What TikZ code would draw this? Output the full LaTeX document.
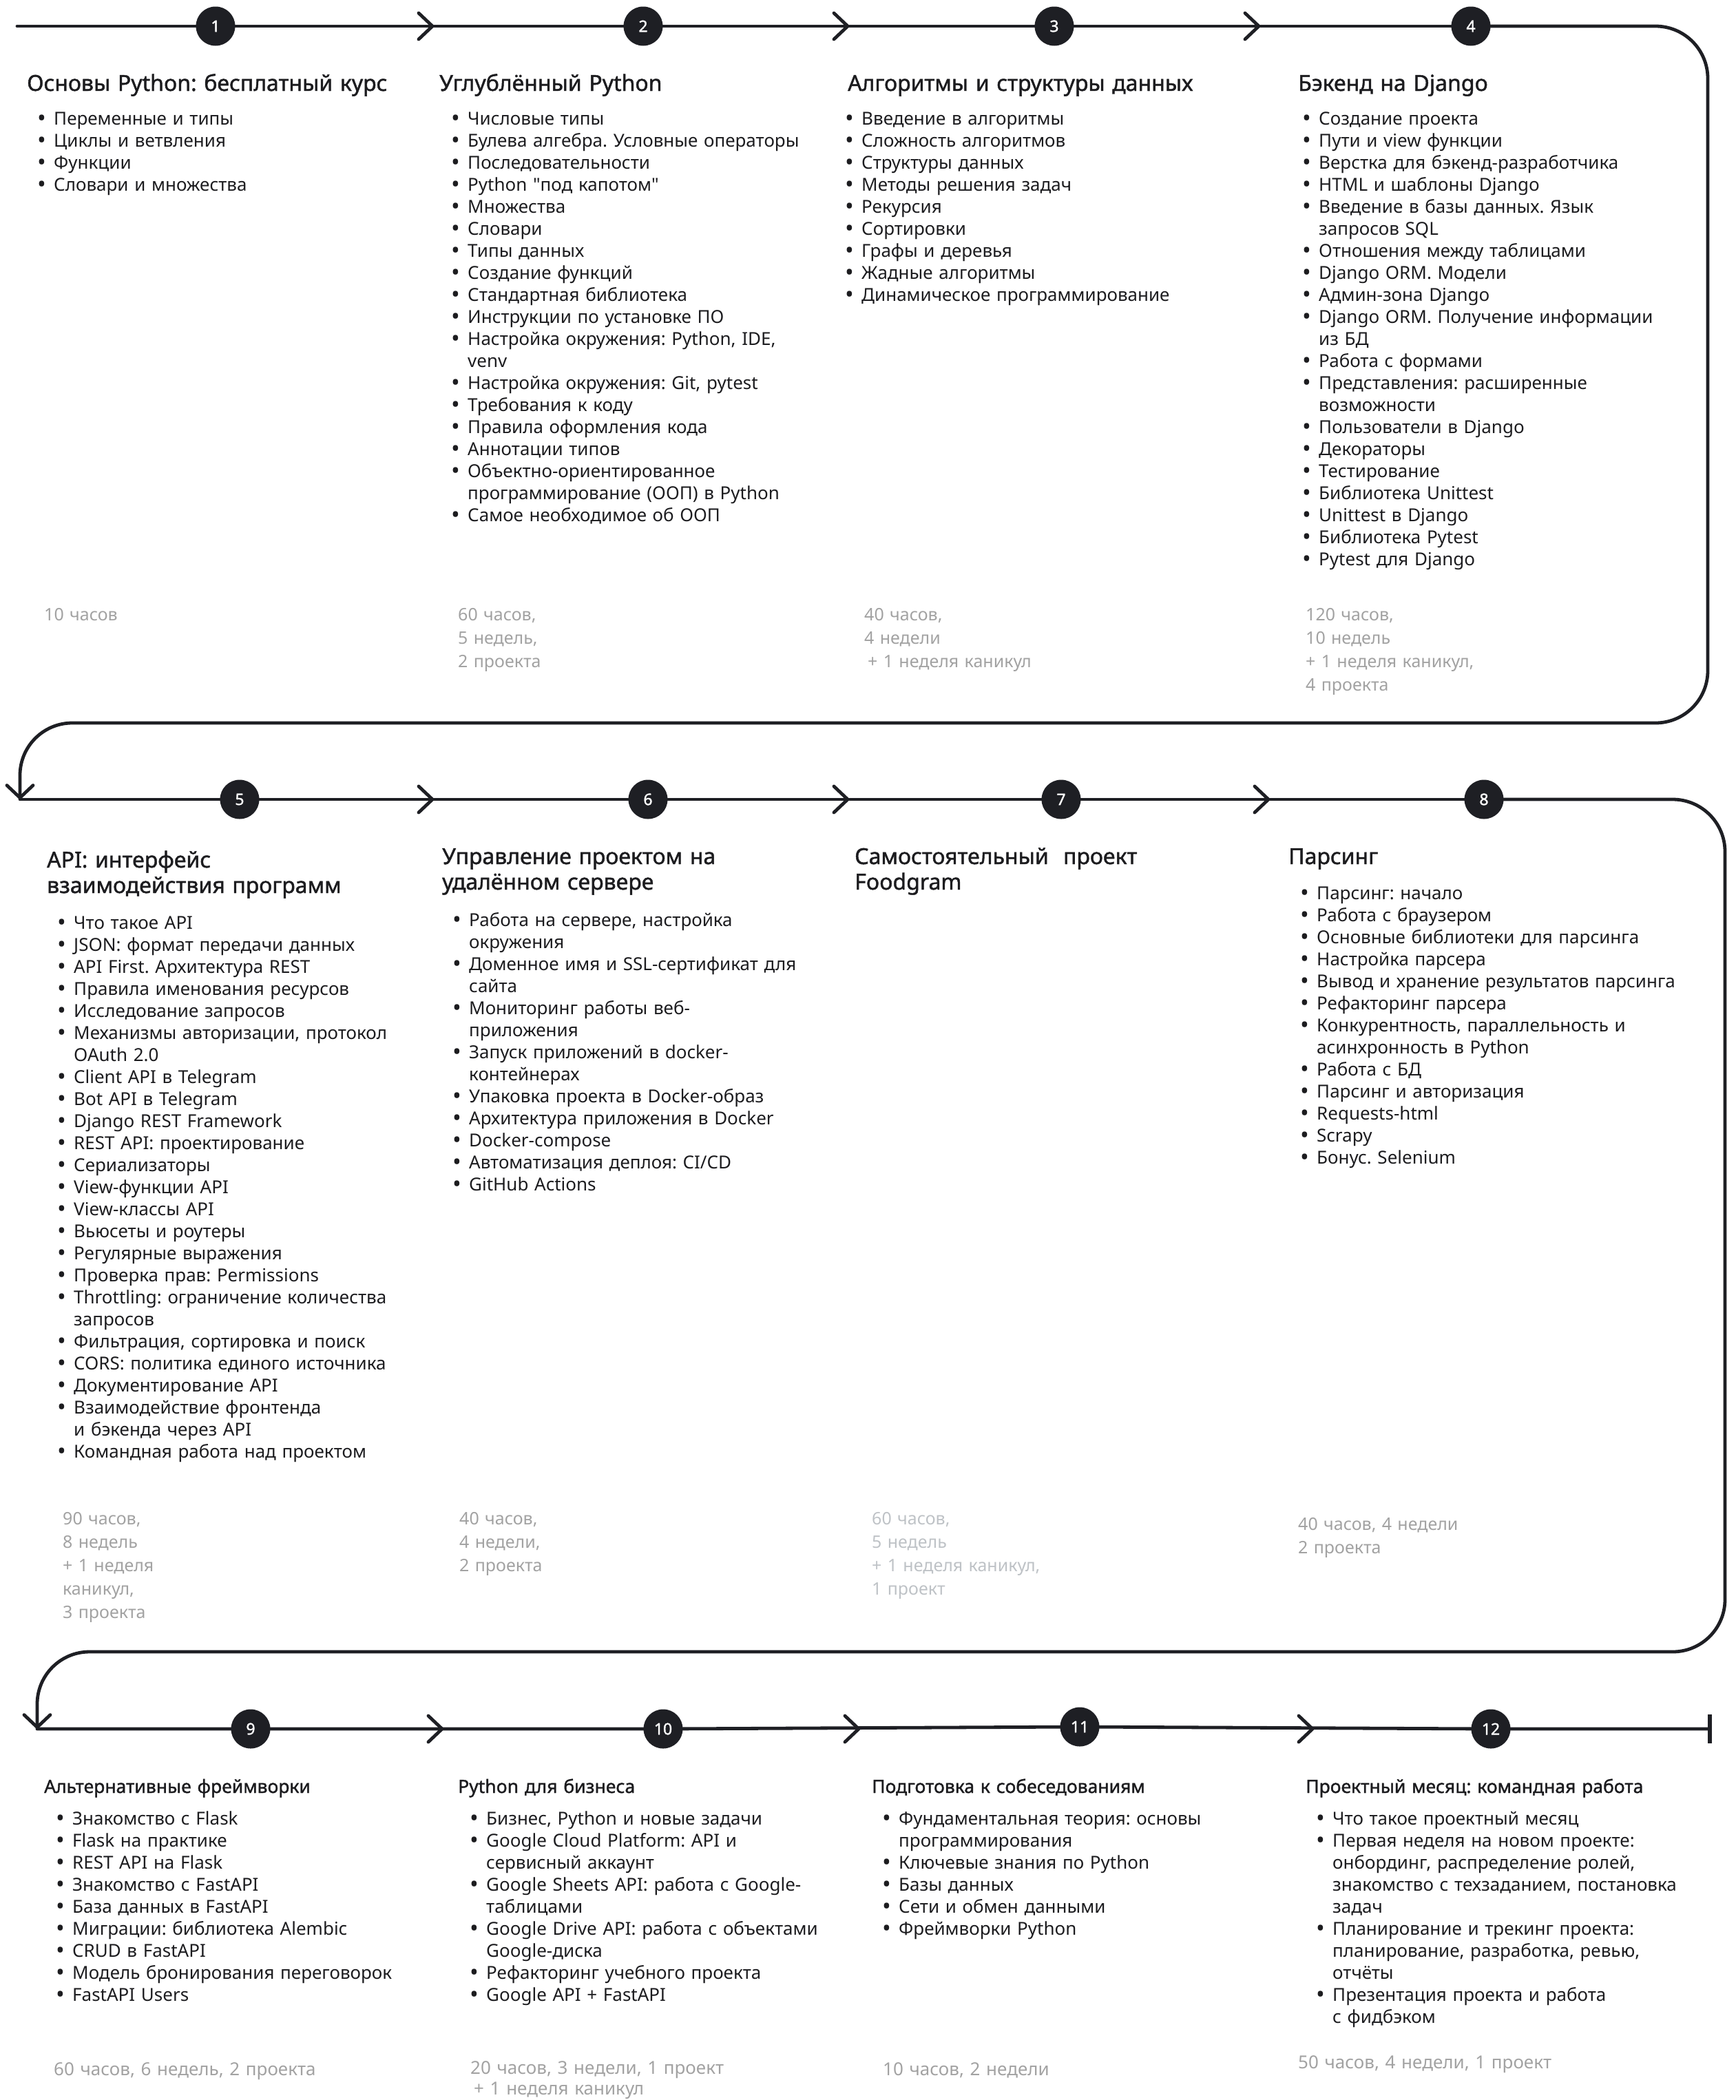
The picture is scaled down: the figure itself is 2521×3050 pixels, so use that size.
\documentclass[tikz,border=0pt]{standalone}
\usepackage{fontspec}
\setmainfont{Noto Sans}[BoldFont={Noto Sans}, BoldFeatures={FakeBold=1.4}]
\usepackage{tikz}
\usetikzlibrary{arrows.meta}
\definecolor{tdline}{HTML}{1E1F24}
\definecolor{tdtext}{HTML}{1C1C1F}
\definecolor{tdmuted}{HTML}{A2A2A2}
\definecolor{tdpale}{HTML}{BEC2C6}
\newlength{\bulw}
\setlength{\bulw}{24pt}
\newcommand{\itm}[1]{\noindent\hangindent=\bulw\hangafter=1\relax
  \makebox[\bulw][l]{\raisebox{-2.4pt}{\fontsize{34}{34}\selectfont\textbullet}}#1\par}
\newcommand{\qq}{{\addfontfeatures{Ligatures=TeXOff}"}}
\frenchspacing

\begin{document}
\begin{tikzpicture}[
  x=1pt, y=-1pt,
  tl/.style={draw=tdline, line width=4.8pt, line cap=round, line join=round},
  turn/.style={tl, rounded corners=76pt,
               -{Straight Barb[length=18pt, width=38pt, round]}},
  dot/.style={circle, fill=tdline, text=white, minimum size=57pt, inner sep=0pt,
              font=\fontsize{23}{23}\selectfont\bfseries},
  txt/.style={anchor=base west, inner sep=0pt, text width=660pt, align=left,
              text=tdtext},
  head/.style={txt, font=\fontsize{32}{37}\selectfont\bfseries},
  subhead/.style={txt, font=\fontsize{26.5}{32}\selectfont\bfseries},
  topics/.style={txt, font=\fontsize{26}{32}\selectfont},
  hours/.style={txt, text=#1, font=\fontsize{25}{34}\selectfont},
  hours/.default=tdmuted,
  lasthours/.style={txt, text=tdmuted, font=\fontsize{26}{30}\selectfont},
  chev/.pic={\draw[tl] (-20,-19) -- (0,0) -- (-20,19);},
]
  \useasboundingbox (0,0) rectangle (2521,3050);

  % ---- the timeline ---------------------------------------------------------
  \coordinate (s1) at (25,38);
  \node[dot] (c1) at (313,38) {1};
  \node[dot] (c2) at (934,38) {2};
  \node[dot] (c3) at (1531,38) {3};
  \node[dot] (c4) at (2136,38) {4};
  \coordinate (t1) at (2480,38);
  \coordinate (t2) at (2480,1050);
  \coordinate (t3) at (29,1050);
  \coordinate (s2) at (29,1161);
  \node[dot] (c5) at (348,1161) {5};
  \node[dot] (c6) at (941,1161) {6};
  \node[dot] (c7) at (1541,1161) {7};
  \node[dot] (c8) at (2155,1161) {8};
  \coordinate (t4) at (2505,1161);
  \coordinate (t5) at (2505,2399);
  \coordinate (t6) at (54,2399);
  \coordinate (s3) at (54,2511);
  \node[dot] (c9) at (364,2511) {9};
  \node[dot] (c10) at (963,2511) {10};
  \node[dot] (c11) at (1568,2508) {11};
  \node[dot] (c12) at (2165,2511) {12};
  \coordinate (e3) at (2483,2511);

  \draw[tl] (s1) -- (c1) -- (c2) -- (c3) -- (c4);
  \draw[turn] (c4) -- (t1) -- (t2) -- (t3) -- (s2);
  \draw[tl] (s2) -- (c5) -- (c6) -- (c7) -- (c8);
  \draw[turn] (c8) -- (t4) -- (t5) -- (t6) -- (s3);
  \draw[tl] (s3) -- (c9) -- (c10) -- (c11) -- (c12) -- (e3);
  \draw[tdline, line width=6pt] ([yshift=21pt]e3) -- ([yshift=-21pt]e3);

  \pic at (628,38) {chev};
  \pic at (1231,38) {chev};
  \pic at (1828,38) {chev};
  \pic at (628,1161) {chev};
  \pic at (1231,1161) {chev};
  \pic at (1842,1161) {chev};
  \pic at (642,2511) {chev};
  \pic at (1247,2511) {chev};
  \pic at (1906,2511) {chev};

  % ---- row 1 ----------------------------------------------------------------
  \node[head] (h1) at (39,132) {Основы Python: бесплатный курс};
  \node[topics] (l1) at (54,181) {%
    \itm{Переменные и типы}
    \itm{Циклы и ветвления}
    \itm{Функции}
    \itm{Словари и множества}};
  \node[hours] (d1) at (64,901) {10 часов};

  \node[head] (h2) at (638,132) {Углублённый Python};
  \node[topics] (l2) at (655,181) {%
    \itm{Числовые типы}
    \itm{Булева алгебра. Условные операторы}
    \itm{Последовательности}
    \itm{Python \qq под капотом\qq}
    \itm{Множества}
    \itm{Словари}
    \itm{Типы данных}
    \itm{Создание функций}
    \itm{Стандартная библиотека}
    \itm{Инструкции по установке ПО}
    \itm{Настройка окружения: Python, IDE,\newline venv}
    \itm{Настройка окружения: Git, pytest}
    \itm{Требования к коду}
    \itm{Правила оформления кода}
    \itm{Аннотации типов}
    \itm{Объектно-ориентированное\newline программирование (ООП) в Python}
    \itm{Самое необходимое об ООП}};
  \node[hours] (d2) at (665,901) {60 часов,\\5 недель,\\2 проекта};

  \node[head] (h3) at (1231,132) {Алгоритмы и структуры данных};
  \node[topics] (l3) at (1227,181) {%
    \itm{Введение в алгоритмы}
    \itm{Сложность алгоритмов}
    \itm{Структуры данных}
    \itm{Методы решения задач}
    \itm{Рекурсия}
    \itm{Сортировки}
    \itm{Графы и деревья}
    \itm{Жадные алгоритмы}
    \itm{Динамическое программирование}};
  \node[hours] (d3) at (1255,901) {40 часов,\\4 недели\\\hspace*{5pt}+ 1 неделя каникул};

  \node[head] (h4) at (1885,132) {Бэкенд на Django};
  \node[topics] (l4) at (1891,181) {%
    \itm{Создание проекта}
    \itm{Пути и view функции}
    \itm{Верстка для бэкенд-разработчика}
    \itm{HTML и шаблоны Django}
    \itm{Введение в базы данных. Язык\newline запросов SQL}
    \itm{Отношения между таблицами}
    \itm{Django ORM. Модели}
    \itm{Админ-зона Django}
    \itm{Django ORM. Получение информации\newline из БД}
    \itm{Работа с формами}
    \itm{Представления: расширенные\newline возможности}
    \itm{Пользователи в Django}
    \itm{Декораторы}
    \itm{Тестирование}
    \itm{Библиотека Unittest}
    \itm{Unittest в Django}
    \itm{Библиотека Pytest}
    \itm{Pytest для Django}};
  \node[hours] (d4) at (1896,901) {120 часов,\\10 недель\\+ 1 неделя каникул,\\4 проекта};

  % ---- row 2 ----------------------------------------------------------------
  \node[head] (h5) at (68,1260) {API: интерфейс\\взаимодействия программ};
  \node[topics] (l5) at (83,1349) {%
    \itm{Что такое API}
    \itm{JSON: формат передачи данных}
    \itm{API First. Архитектура REST}
    \itm{Правила именования ресурсов}
    \itm{Исследование запросов}
    \itm{Механизмы авторизации, протокол\newline OAuth 2.0}
    \itm{Client API в Telegram}
    \itm{Bot API в Telegram}
    \itm{Django REST Framework}
    \itm{REST API: проектирование}
    \itm{Сериализаторы}
    \itm{View-функции API}
    \itm{View-классы API}
    \itm{Вьюсеты и роутеры}
    \itm{Регулярные выражения}
    \itm{Проверка прав: Permissions}
    \itm{Throttling: ограничение количества\newline запросов}
    \itm{Фильтрация, сортировка и поиск}
    \itm{CORS: политика единого источника}
    \itm{Документирование API}
    \itm{Взаимодействие фронтенда\newline и бэкенда через API}
    \itm{Командная работа над проектом}};
  \node[hours] (d5) at (91,2214) {90 часов,\\8 недель\\+ 1 неделя\\каникул,\\3 проекта};

  \node[head] (h6) at (642,1255) {Управление проектом на\\удалённом сервере};
  \node[topics] (l6) at (657,1345) {%
    \itm{Работа на сервере, настройка\newline окружения}
    \itm{Доменное имя и SSL-сертификат для\newline сайта}
    \itm{Мониторинг работы веб-\newline приложения}
    \itm{Запуск приложений в docker-\newline контейнерах}
    \itm{Упаковка проекта в Docker-образ}
    \itm{Архитектура приложения в Docker}
    \itm{Docker-compose}
    \itm{Автоматизация деплоя: CI/CD}
    \itm{GitHub Actions}};
  \node[hours] (d6) at (667,2214) {40 часов,\\4 недели,\\2 проекта};

  \node[head] (h7) at (1241,1255) {Самостоятельный\ \ проект\\Foodgram};
  \node[hours=tdpale] (d7) at (1266,2214) {60 часов,\\5 недель\\+ 1 неделя каникул,\\1 проект};

  \node[head] (h8) at (1871,1255) {Парсинг};
  \node[topics] (l8) at (1888,1306) {%
    \itm{Парсинг: начало}
    \itm{Работа с браузером}
    \itm{Основные библиотеки для парсинга}
    \itm{Настройка парсера}
    \itm{Вывод и хранение результатов парсинга}
    \itm{Рефакторинг парсера}
    \itm{Конкурентность, параллельность и\newline асинхронность в Python}
    \itm{Работа с БД}
    \itm{Парсинг и авторизация}
    \itm{Requests-html}
    \itm{Scrapy}
    \itm{Бонус. Selenium}};
  \node[hours] (d8) at (1885,2222) {40 часов, 4 недели\\2 проекта};

  % ---- row 3 ----------------------------------------------------------------
  \node[subhead] (h9) at (64,2604) {Альтернативные фреймворки};
  \node[topics] (l9) at (81,2650) {%
    \itm{Знакомство с Flask}
    \itm{Flask на практике}
    \itm{REST API на Flask}
    \itm{Знакомство с FastAPI}
    \itm{База данных в FastAPI}
    \itm{Миграции: библиотека Alembic}
    \itm{CRUD в FastAPI}
    \itm{Модель бронирования переговорок}
    \itm{FastAPI Users}};
  \node[lasthours] (d9) at (78,3014) {60 часов, 6 недель, 2 проекта};

  \node[subhead] (h10) at (665,2604) {Python для бизнеса};
  \node[topics] (l10) at (682,2650) {%
    \itm{Бизнес, Python и новые задачи}
    \itm{Google Cloud Platform: API и\newline сервисный аккаунт}
    \itm{Google Sheets API: работа с Google-\newline таблицами}
    \itm{Google Drive API: работа с объектами\newline Google-диска}
    \itm{Рефакторинг учебного проекта}
    \itm{Google API + FastAPI}};
  \node[lasthours] (d10) at (683,3012) {20 часов, 3 недели, 1 проект\\\hspace*{5pt}+ 1 неделя каникул};

  \node[subhead] (h11) at (1266,2604) {Подготовка к собеседованиям};
  \node[topics] (l11) at (1281,2650) {%
    \itm{Фундаментальная теория: основы\newline программирования}
    \itm{Ключевые знания по Python}
    \itm{Базы данных}
    \itm{Сети и обмен данными}
    \itm{Фреймворки Python}};
  \node[lasthours] (d11) at (1282,3014) {10 часов, 2 недели};

  \node[subhead] (h12) at (1896,2604) {Проектный месяц: командная работа};
  \node[topics] (l12) at (1911,2650) {%
    \itm{Что такое проектный месяц}
    \itm{Первая неделя на новом проекте:\newline онбординг, распределение ролей,\newline
         знакомство с техзаданием, постановка\newline задач}
    \itm{Планирование и трекинг проекта:\newline планирование, разработка, ревью,\newline отчёты}
    \itm{Презентация проекта и работа\newline с фидбэком}};
  \node[lasthours] (d12) at (1885,3004) {50 часов, 4 недели, 1 проект};
\end{tikzpicture}
\end{document}
